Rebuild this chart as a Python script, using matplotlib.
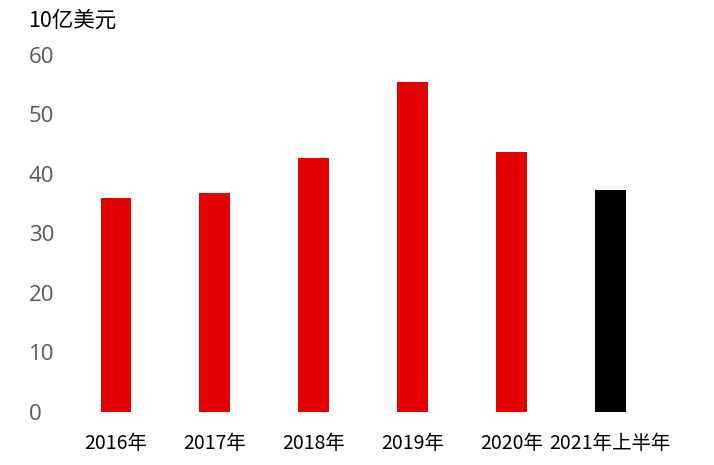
import matplotlib
matplotlib.use('Agg')
import matplotlib.pyplot as plt
import numpy as np

plt.rcParams['font.family'] = ['Noto Sans CJK SC', 'DejaVu Sans']

years = ['2016年', '2017年', '2018年', '2019年', '2020年', '2021年上半年']
values = [35.9, 36.8, 42.7, 55.5, 43.7, 37.3]
colors = ['#E20000'] * 5 + ['#000000']
yticks = [0, 10, 20, 30, 40, 50, 60]

fig = plt.figure(figsize=(7.14, 4.65), dpi=100)
ax = fig.add_axes([0.093, 0.114, 0.831, 0.768])

x = np.arange(len(years))
ax.bar(x, values, width=0.31, color=colors)

ax.set_xlim(-0.5, len(years) - 0.5)
ax.set_ylim(0, 60)
ax.set_yticks(yticks)
ax.set_xticks(x)
ax.set_xticklabels(years, fontsize=14, color='black')
ax.set_yticklabels([str(v) for v in yticks], fontsize=16, color='#595959',
                   family=['Open Sans', 'DejaVu Sans'])
for lbl in ax.get_yticklabels():
    lbl.set_horizontalalignment('left')
ax.tick_params(axis='y', length=0, pad=27)
ax.tick_params(axis='x', length=0, pad=15)
for s in ax.spines.values():
    s.set_visible(False)

fig.text(28 / 714, 1 - 21 / 465, '10亿美元', fontsize=15.5, color='black', va='center', ha='left')

fig.savefig('out.png', dpi=100)
